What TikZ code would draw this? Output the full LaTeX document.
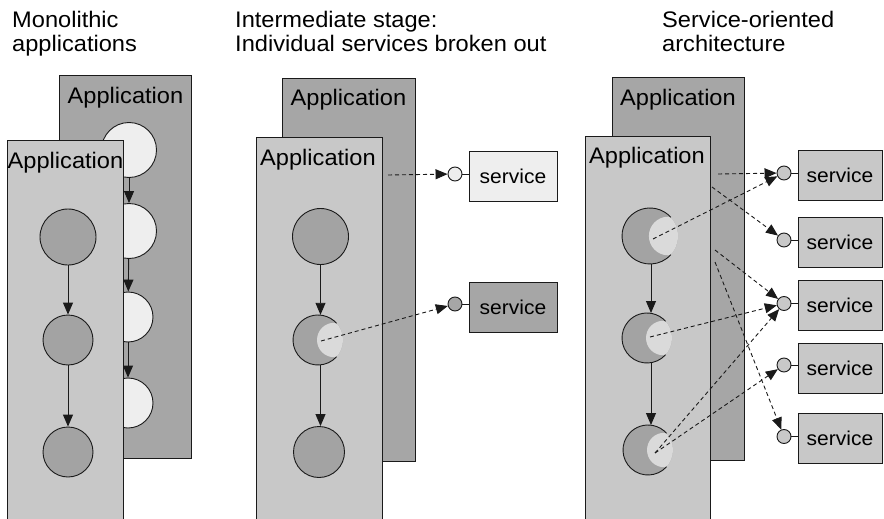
\documentclass[tikz,border=0pt]{standalone}
\usepackage{fontspec}
\setmainfont{Liberation Sans}[FakeStretch=1.05]
\usetikzlibrary{arrows.meta}

\definecolor{panelback}{HTML}{A6A6A6}
\definecolor{panelfront}{HTML}{C8C8C8}
\definecolor{nodedark}{HTML}{A3A3A3}
\definecolor{nodelight}{HTML}{EEEEEE}
\definecolor{moonlight}{HTML}{DADADA}
\definecolor{inkline}{HTML}{1A1A1A}

\tikzset{
  outline/.style={draw=inkline, line width=0.9pt},
  backpanel/.style={fill=panelback, outline},
  frontfill/.style={fill=panelfront},
  labelfont/.style={font=\fontsize{22.5}{24}\selectfont},
  applabel/.style={labelfont, anchor=base, inner sep=0pt},
  title/.style={labelfont, anchor=base west, inner sep=0pt, align=left},
  comp/.style={circle, outline, inner sep=0pt},
  flow/.style={outline, -{Triangle[length=12pt,width=10pt]}},
  call/.style={draw=inkline, line width=0.9pt, dash pattern=on 4pt off 3pt,
               -{Triangle[length=12pt,width=10pt]}},
  iface/.style={circle, outline, inner sep=0pt, minimum size=14pt},
  svc/.style={outline, inner sep=0pt, minimum height=50pt,
              font=\fontsize{20}{24}\selectfont},
}

% component with a part split off: name, x, y, radius
\newcommand\moonnode[4]{%
  \node[circle, inner sep=0pt, minimum size={2*#4pt}, fill=nodedark] (#1) at (#2,#3) {};
  \begin{scope}
    \clip (#1.center) circle[radius=#4];
    \fill[moonlight] ([xshift={0.65*#4pt}]#1.center) circle[radius={0.69*#4}];
  \end{scope}
  \draw[outline] ([shift={(42:#4)}]#1.center) arc[start angle=42, end angle=318, radius=#4];
}

\begin{document}
\begin{tikzpicture}[x=1pt, y=-1pt]
\useasboundingbox (0,0) rectangle (884,519);

% ---------- titles (anchored at the baseline of their last line) ----------
\node[title] (t1) at (12,52) {Monolithic\\applications};
\node[title] (t2) at (235,52) {Intermediate stage:\\Individual services broken out};
\node[title] (t3) at (662,52) {Service-oriented\\architecture};

% ---------- monolithic applications ----------
\draw[backpanel] (59,75) rectangle (191,458);
\node[applabel] (a1back) at (125.5,103) {Application};
\node[comp, fill=nodelight, minimum size=55pt] (b1) at (129,150) {};
\node[comp, fill=nodelight, minimum size=55pt] (b2) at (129,231) {};
\node[comp, fill=nodelight, minimum size=50pt] (b3) at (128,317) {};
\node[comp, fill=nodelight, minimum size=50pt] (b4) at (128,403) {};
\draw[flow] (b1) -- (b2);
\draw[flow] (b2) -- (b3);
\draw[flow] (b3) -- (b4);

\fill[frontfill] (7,140) rectangle (123,519);
\draw[outline] (7,519) -- (7,140) -- (123,140) -- (123,519);
\node[applabel] (a1front) at (65.5,168) {Application};
\node[comp, fill=nodedark, minimum size=56pt] (f1) at (68,237) {};
\node[comp, fill=nodedark, minimum size=50pt] (f2) at (68,340) {};
\node[comp, fill=nodedark, minimum size=50pt] (f3) at (68,452) {};
\draw[flow] (f1) -- (f2);
\draw[flow] (f2) -- (f3);

% ---------- intermediate stage ----------
\draw[backpanel] (282,78) rectangle (415,461);
\node[applabel] (a2back) at (348.5,106) {Application};

\fill[frontfill] (256,137) rectangle (382,519);
\draw[outline] (256,519) -- (256,137) -- (382,137) -- (382,519);
\node[applabel] (a2front) at (318,165) {Application};
\node[comp, fill=nodedark, minimum size=56pt] (g1) at (320.5,236.5) {};
\moonnode{g2}{318}{340}{25}
\node[comp, fill=nodedark, minimum size=51pt] (g3) at (319,452) {};
\draw[flow] (g1) -- (g1 |- g2.north);
\draw[flow] (g2.south -| g1) -- (g3.north -| g1);

\node[svc, fill=nodelight, minimum width=88pt] (s21) at (513,176.5) {service};
\node[svc, fill=panelback, minimum width=88pt] (s22) at (513,307.5) {service};
\node[iface, fill=nodelight] (i21) at (455,174) {};
\node[iface, fill=panelback] (i22) at (455,304) {};
\draw[outline] (i21.east) -- (i21.east -| s21.west);
\draw[outline] (i22.east) -- (i22.east -| s22.west);

\coordinate (u21) at (388,175);
\coordinate (u22) at (321,341);
\draw[call] (u21) -- (i21);
\draw[call] (u22) -- (i22);

% ---------- service-oriented architecture ----------
\draw[backpanel] (612,77) rectangle (744,460);
\node[applabel] (a3back) at (678,106) {Application};

\fill[frontfill] (585,136) rectangle (710,519);
\draw[outline] (585,519) -- (585,136) -- (710,136) -- (710,519);
\node[applabel] (a3front) at (647,163) {Application};
\moonnode{h1}{650}{236}{28}
\moonnode{h2}{647}{338}{25}
\moonnode{h3}{648}{450}{25}
\draw[flow] (651,264) -- (651,313);
\draw[flow] (651,363) -- (651,425);

\node[svc, fill=panelfront, minimum width=84pt] (s31) at (840,175) {service};
\node[svc, fill=panelfront, minimum width=84pt] (s32) at (840,242) {service};
\node[svc, fill=panelfront, minimum width=84pt] (s33) at (840,305.5) {service};
\node[svc, fill=panelfront, minimum width=84pt] (s34) at (840,368) {service};
\node[svc, fill=panelfront, minimum width=84pt] (s35) at (840,438.5) {service};
\foreach \k/\yy in {1/173, 2/240, 3/303.5, 4/365, 5/436.5} {
  \node[iface, fill=panelfront] (q\k) at (784,\yy) {};
  \draw[outline] (q\k.east) -- (q\k.east -| s3\k.west);
}

\coordinate (v1) at (718,174);
\coordinate (v2) at (712,187);
\coordinate (v3) at (715,250);
\coordinate (v4) at (715,262);
\coordinate (w1) at (653,239);
\coordinate (w2) at (650,337);
\coordinate (w3) at (655,453);
\draw[call] (v1) -- (q1);
\draw[call] (v2) -- (q2);
\draw[call] (w1) -- (q1);
\draw[call] (v3) -- (q3);
\draw[call] (w2) -- (q3);
\draw[call] (v4) -- (q5);
\draw[call] (w3) -- (q3);
\draw[call] (w3) -- (q4);
\end{tikzpicture}
\end{document}
